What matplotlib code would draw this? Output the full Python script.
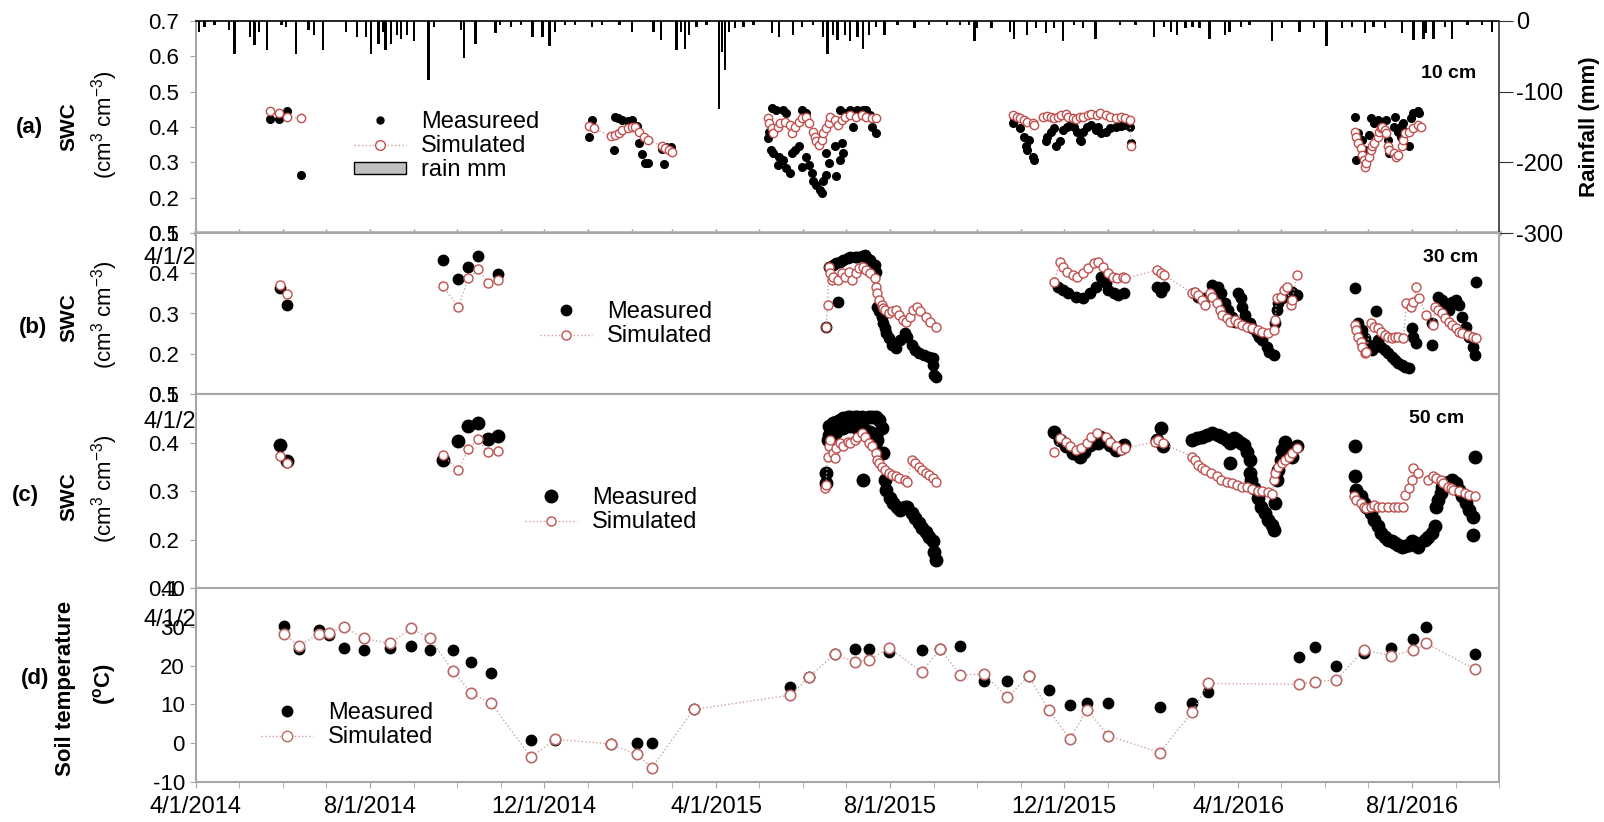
import numpy as np
import pandas as pd
import matplotlib
matplotlib.use('Agg')
import matplotlib.pyplot as plt
import matplotlib.dates as mdates
from matplotlib.lines import Line2D
from matplotlib.patches import Patch
from matplotlib.ticker import FormatStrFormatter, FuncFormatter

plt.rcParams['font.family'] = ['Liberation Sans', 'DejaVu Sans']
plt.rcParams['axes.unicode_minus'] = False
plt.rcParams['mathtext.default'] = 'regular'

START = pd.Timestamp('2014-04-01')
END = pd.Timestamp('2016-10-01')

# all days are counted from 4/1/2014

# daily rainfall (mm)
rain_day = [2, 6, 13, 23, 27, 38, 41, 44, 50, 60, 63, 70, 79, 83, 89, 105, 113, 119, 123, 128,
	131, 133, 137, 141, 144, 148, 153, 163, 167, 186, 188, 196, 210, 213, 221, 228, 236, 243, 248, 252,
	259, 266, 278, 285, 297, 306, 321, 326, 337, 340, 343, 346, 351, 358, 367, 369, 371, 374, 378, 384,
	391, 404, 409, 419, 425, 433, 440, 443, 447, 450, 455, 459, 464, 468, 472, 477, 483, 492, 504, 514,
	527, 536, 542, 546, 548, 558, 571, 574, 583, 589, 596, 602, 608, 616, 622, 631,
	648, 659, 672, 679, 684, 688, 694, 699, 704, 711, 722, 725, 733, 739, 755, 762, 774, 784, 793, 804,
	811, 820, 826, 834, 846, 854, 861, 863, 868, 876, 881, 892, 902, 909]
rain_mm = [15, 8, 6, 13, 46, 22, 34, 15, 41, 6, 8, 46, 13, 20, 41, 15, 22, 22, 46, 32,
	15, 41, 32, 20, 25, 20, 29, 84, 8, 13, 53, 32, 17, 6, 8, 6, 22, 22, 36, 15,
	5, 5, 8, 6, 6, 15, 15, 27, 41, 15, 39, 20, 8, 6, 124, 44, 69, 15, 10, 8,
	5, 17, 22, 20, 8, 6, 22, 46, 20, 27, 20, 29, 22, 39, 20, 8, 20, 6, 10, 5,
	6, 5, 5, 29, 10, 10, 15, 25, 20, 10, 17, 10, 29, 6, 10, 25,
	5, 5, 22, 8, 15, 20, 10, 8, 10, 25, 20, 15, 8, 5, 29, 10, 15, 10, 36, 10,
	8, 17, 8, 10, 17, 27, 25, 17, 25, 8, 25, 6, 5, 15]

# (a) SWC at 10 cm
a_meas_day = [52, 58, 64, 74,
	276, 278, 293, 294, 296, 299, 303, 306, 309, 311, 313, 315, 317, 327, 328, 330, 333,
	401, 402, 403, 404, 405, 407, 408, 409, 412, 412, 414, 414, 417, 418, 420, 423, 425, 425, 428, 428,
	430, 432, 433, 435, 438, 439, 440, 442, 442, 444, 448, 449, 452, 452, 453, 454, 455, 459, 461, 464,
	468, 470, 473, 474, 475, 477,
	573, 574, 578, 581, 582, 583, 584, 587, 588, 596, 597, 600, 602, 603, 606, 608, 611, 613, 616, 618,
	620, 621, 622, 625, 628, 631, 633, 635, 638, 641, 645, 649, 651, 655, 656,
	813, 814, 815, 818, 820, 823, 824, 826, 829, 831, 832, 835, 836, 837, 840, 841, 843, 845, 846, 847,
	848, 851, 852, 854, 857, 858]
a_meas = [0.423, 0.423, 0.445, 0.264,
	0.371, 0.420, 0.335, 0.428, 0.425, 0.420, 0.418, 0.420, 0.403, 0.354, 0.324, 0.297, 0.297, 0.337, 0.294, 0.344, 0.342,
	0.368, 0.387, 0.335, 0.453, 0.326, 0.448, 0.293, 0.316, 0.448, 0.307, 0.439, 0.283, 0.269, 0.326, 0.335, 0.345, 0.448, 0.288, 0.439, 0.316,
	0.293, 0.269, 0.246, 0.236, 0.222, 0.213, 0.246, 0.264, 0.326, 0.297, 0.345, 0.260, 0.307, 0.448, 0.354, 0.326, 0.439, 0.448, 0.401, 0.448,
	0.448, 0.448, 0.434, 0.401, 0.425, 0.382,
	0.411, 0.420, 0.396, 0.373, 0.345, 0.335, 0.363, 0.316, 0.307, 0.359, 0.373, 0.387, 0.396, 0.345, 0.359, 0.392, 0.401, 0.406, 0.401, 0.387,
	0.363, 0.359, 0.387, 0.401, 0.406, 0.392, 0.401, 0.382, 0.387, 0.396, 0.401, 0.403, 0.406, 0.401, 0.354,
	0.429, 0.307, 0.382, 0.363, 0.335, 0.378, 0.425, 0.411, 0.420, 0.392, 0.415, 0.420, 0.363, 0.326, 0.401, 0.429, 0.387, 0.373, 0.406, 0.411,
	0.387, 0.345, 0.425, 0.439, 0.444, 0.439]
a_sim_day = [52, 58, 64, 74,
	276, 279, 291, 294, 297, 299, 303, 306, 308, 311, 314, 317, 327, 329, 332, 334,
	401, 402, 404, 405, 408, 410, 413, 417, 418, 420, 423, 425, 428, 430, 433, 434, 435, 437, 439, 440,
	442, 444, 445, 448, 450, 453, 455, 459, 463, 467, 470, 474, 477,
	573, 576, 578, 581, 583, 587, 588, 594, 597, 600, 602, 605, 607, 610, 612, 615, 617, 620, 622, 626,
	628, 632, 634, 638, 641, 645, 649, 652, 655, 656,
	813, 814, 815, 817, 818, 819, 820, 821, 823, 824, 825, 826, 829, 830, 831, 832, 834, 835, 836, 837,
	840, 842, 843, 846, 847, 848, 851, 854, 857, 859]
a_sim = [0.445, 0.439, 0.429, 0.425,
	0.403, 0.396, 0.375, 0.378, 0.384, 0.392, 0.396, 0.401, 0.399, 0.387, 0.373, 0.363, 0.346, 0.340, 0.335, 0.330,
	0.425, 0.411, 0.396, 0.382, 0.401, 0.411, 0.415, 0.406, 0.382, 0.401, 0.415, 0.425, 0.429, 0.411, 0.387, 0.373, 0.359, 0.349, 0.363, 0.382,
	0.396, 0.411, 0.429, 0.420, 0.406, 0.420, 0.429, 0.434, 0.429, 0.434, 0.429, 0.425, 0.425,
	0.434, 0.429, 0.425, 0.420, 0.415, 0.411, 0.406, 0.429, 0.431, 0.428, 0.425, 0.429, 0.434, 0.437, 0.429, 0.425, 0.422, 0.428, 0.429, 0.434,
	0.437, 0.434, 0.439, 0.434, 0.429, 0.425, 0.428, 0.425, 0.420, 0.345,
	0.387, 0.373, 0.354, 0.340, 0.321, 0.307, 0.288, 0.297, 0.316, 0.335, 0.345, 0.354, 0.373, 0.387, 0.396, 0.401, 0.392, 0.382, 0.345, 0.335,
	0.326, 0.316, 0.321, 0.345, 0.363, 0.382, 0.387, 0.396, 0.406, 0.401]

# (b) SWC at 30 cm
b_meas_day = [59, 64,
	173, 184, 191, 198, 212,
	442, 444, 447, 449, 450, 452, 454, 457, 459, 462, 464, 467, 469, 470, 473, 476, 477, 478, 479, 481,
	482, 483, 484, 486, 488, 491, 494, 497, 499, 502, 504, 507, 511, 514, 517, 517, 518, 519,
	605, 608, 612, 617, 622, 627, 631, 635, 638, 640, 644, 647, 651, 674, 677, 679,
	700, 703, 708, 713, 717, 719, 722, 724, 727, 729, 731, 733, 734, 736, 739, 741, 744, 746, 748, 751,
	753, 756, 757, 758, 759, 762, 765, 769, 772,
	813, 815, 818, 820, 823, 825, 828, 829, 831, 834, 836, 839, 841, 843, 846, 848, 851, 853, 854, 856,
	867, 867, 871, 874, 876, 879, 881, 884, 886, 888, 891, 893, 896, 897, 898]
b_meas = [0.363, 0.321,
	0.433, 0.385, 0.416, 0.443, 0.397,
	0.266, 0.416, 0.420, 0.425, 0.329, 0.429, 0.433, 0.437, 0.440, 0.441, 0.440, 0.443, 0.445, 0.441, 0.433, 0.420, 0.404, 0.317, 0.305, 0.292,
	0.276, 0.263, 0.251, 0.238, 0.222, 0.214, 0.234, 0.251, 0.242, 0.222, 0.209, 0.201, 0.197, 0.193, 0.189, 0.172, 0.147, 0.141,
	0.367, 0.358, 0.350, 0.342, 0.338, 0.350, 0.367, 0.391, 0.375, 0.358, 0.350, 0.346, 0.350, 0.367, 0.354, 0.367,
	0.350, 0.342, 0.338, 0.371, 0.367, 0.350, 0.325, 0.309, 0.292, 0.280, 0.350, 0.338, 0.317, 0.296, 0.276, 0.263, 0.251, 0.242, 0.234, 0.218,
	0.205, 0.197, 0.276, 0.309, 0.325, 0.338, 0.350, 0.354, 0.346,
	0.363, 0.276, 0.259, 0.238, 0.222, 0.209, 0.305, 0.234, 0.218, 0.209, 0.201, 0.193, 0.185, 0.178, 0.172, 0.168, 0.164, 0.263, 0.242, 0.226,
	0.276, 0.222, 0.342, 0.334, 0.321, 0.309, 0.329, 0.334, 0.321, 0.292, 0.267, 0.242, 0.218, 0.197, 0.379]
b_sim_day = [59, 64,
	173, 184, 191, 198, 205, 212,
	442, 443, 444, 445, 446, 447, 450, 453, 455, 458, 460, 463, 465, 468, 470, 473, 476, 477, 478, 479,
	481, 482, 483, 486, 488, 491, 493, 496, 498, 501, 503, 506, 508, 512, 515, 519,
	602, 606, 608, 611, 615, 618, 622, 626, 630, 633, 636, 640, 643, 646, 650, 652, 674, 677, 679,
	699, 701, 703, 706, 708, 711, 713, 716, 718, 720, 723, 725, 729, 731, 734, 737, 741, 745, 748, 752,
	756, 757, 758, 761, 763, 765, 768, 769, 772,
	813, 814, 815, 817, 818, 820, 821, 824, 826, 829, 831, 834, 836, 839, 841, 843, 847, 849, 852, 854,
	856, 858, 863, 868, 869, 871, 874, 876, 879, 881, 884, 886, 888, 892, 896, 898]
b_sim = [0.371, 0.348,
	0.369, 0.317, 0.387, 0.410, 0.377, 0.383,
	0.266, 0.321, 0.416, 0.400, 0.383, 0.391, 0.383, 0.400, 0.391, 0.404, 0.383, 0.400, 0.412, 0.416, 0.408, 0.400, 0.387, 0.367, 0.350, 0.334,
	0.321, 0.313, 0.309, 0.300, 0.305, 0.309, 0.296, 0.284, 0.280, 0.292, 0.309, 0.317, 0.305, 0.292, 0.280, 0.267,
	0.379, 0.429, 0.416, 0.404, 0.396, 0.391, 0.400, 0.412, 0.425, 0.429, 0.416, 0.400, 0.391, 0.387, 0.391, 0.387, 0.408, 0.400, 0.396,
	0.350, 0.354, 0.346, 0.334, 0.321, 0.350, 0.342, 0.325, 0.309, 0.296, 0.288, 0.280, 0.284, 0.276, 0.271, 0.267, 0.263, 0.259, 0.255, 0.251,
	0.259, 0.284, 0.338, 0.342, 0.358, 0.367, 0.321, 0.334, 0.396,
	0.271, 0.259, 0.242, 0.230, 0.218, 0.201, 0.205, 0.276, 0.267, 0.263, 0.255, 0.247, 0.242, 0.238, 0.241, 0.242, 0.238, 0.325, 0.317, 0.329,
	0.367, 0.338, 0.296, 0.271, 0.317, 0.309, 0.300, 0.288, 0.280, 0.271, 0.263, 0.255, 0.251, 0.247, 0.242, 0.238]

# (c) SWC at 50 cm
c_meas_day = [59, 64,
	173, 184, 191, 198, 205, 212,
	442, 442, 443, 444, 444, 445, 447, 449, 449, 452, 454, 454, 457, 459, 459, 462, 464, 464, 467, 468,
	469, 469, 472, 473, 474, 476, 477, 477, 478, 479, 481, 482, 483, 484, 487, 489, 492, 494, 497, 499,
	502, 504, 507, 509, 512, 514, 517, 518, 519,
	602, 606, 610, 615, 620, 623, 627, 631, 633, 634, 638, 641, 645, 649, 651, 674, 677, 678,
	699, 702, 706, 709, 713, 717, 720, 723, 725, 725, 728, 730, 733, 735, 737, 739, 739, 740, 742, 745,
	747, 750, 752, 755, 756, 757, 758, 759, 761, 762, 764, 767, 769, 772,
	813, 813, 814, 817, 819, 821, 824, 826, 829, 831, 834, 836, 839, 841, 843, 846, 848, 851, 853, 856,
	857, 862, 864, 867, 869, 870, 871, 873, 874, 876, 879, 881, 884, 886, 888, 891, 893, 896, 896, 897]
c_meas = [0.395, 0.361,
	0.364, 0.404, 0.433, 0.440, 0.407, 0.414,
	0.337, 0.316, 0.405, 0.433, 0.416, 0.412, 0.440, 0.443, 0.422, 0.446, 0.450, 0.429, 0.452, 0.453, 0.433, 0.452, 0.453, 0.429, 0.453, 0.323,
	0.450, 0.426, 0.452, 0.422, 0.453, 0.395, 0.452, 0.416, 0.405, 0.446, 0.429, 0.378, 0.323, 0.302, 0.285, 0.275, 0.268, 0.261, 0.268, 0.268,
	0.254, 0.244, 0.234, 0.223, 0.216, 0.206, 0.196, 0.175, 0.158,
	0.422, 0.405, 0.392, 0.378, 0.371, 0.381, 0.395, 0.402, 0.398, 0.412, 0.405, 0.395, 0.385, 0.388, 0.395, 0.405, 0.429, 0.392,
	0.405, 0.409, 0.412, 0.416, 0.419, 0.416, 0.412, 0.405, 0.398, 0.357, 0.409, 0.405, 0.398, 0.395, 0.381, 0.364, 0.337, 0.323, 0.306, 0.285,
	0.268, 0.254, 0.240, 0.230, 0.220, 0.275, 0.323, 0.343, 0.364, 0.385, 0.402, 0.378, 0.371, 0.392,
	0.392, 0.330, 0.302, 0.289, 0.275, 0.268, 0.254, 0.240, 0.227, 0.213, 0.206, 0.199, 0.196, 0.192, 0.189, 0.185, 0.187, 0.189, 0.196, 0.192,
	0.185, 0.199, 0.206, 0.213, 0.227, 0.268, 0.282, 0.295, 0.309, 0.316, 0.319, 0.323, 0.316, 0.302, 0.289, 0.275, 0.261, 0.247, 0.210, 0.371]
c_sim_day = [59, 64,
	173, 184, 191, 198, 205, 212,
	441, 442, 443, 444, 445, 447, 448, 449, 452, 454, 457, 459, 462, 464, 467, 469, 472, 474, 477, 478,
	479, 481, 483, 486, 488, 491, 493, 497, 499, 502, 504, 507, 509, 512, 514, 517, 519,
	602, 606, 610, 613, 617, 621, 625, 628, 632, 638, 641, 645, 649, 652, 673, 675, 678,
	699, 701, 703, 706, 708, 712, 716, 719, 723, 727, 730, 734, 737, 741, 745, 748, 752, 755, 756, 757,
	759, 762, 764, 767, 769, 772,
	812, 814, 817, 819, 821, 824, 826, 829, 832, 836, 840, 843, 847, 848, 851, 853, 854, 857, 864, 868,
	870, 873, 875, 878, 880, 882, 886, 890, 893, 897]
c_sim = [0.372, 0.357,
	0.374, 0.343, 0.386, 0.407, 0.380, 0.383,
	0.306, 0.313, 0.371, 0.392, 0.405, 0.378, 0.368, 0.388, 0.398, 0.392, 0.402, 0.398, 0.405, 0.412, 0.419, 0.412, 0.398, 0.392, 0.378, 0.364,
	0.357, 0.350, 0.343, 0.337, 0.333, 0.330, 0.326, 0.323, 0.319, 0.364, 0.357, 0.350, 0.343, 0.337, 0.333, 0.326, 0.319,
	0.381, 0.409, 0.402, 0.392, 0.385, 0.388, 0.398, 0.412, 0.419, 0.412, 0.402, 0.392, 0.385, 0.388, 0.402, 0.405, 0.398,
	0.371, 0.364, 0.354, 0.347, 0.343, 0.337, 0.330, 0.323, 0.319, 0.316, 0.313, 0.309, 0.308, 0.304, 0.301, 0.299, 0.297, 0.294, 0.323, 0.337,
	0.350, 0.357, 0.364, 0.371, 0.378, 0.388,
	0.289, 0.282, 0.275, 0.268, 0.264, 0.268, 0.271, 0.268, 0.268, 0.268, 0.268, 0.268, 0.268, 0.292, 0.306, 0.323, 0.347, 0.337, 0.323, 0.330,
	0.326, 0.323, 0.316, 0.309, 0.306, 0.302, 0.299, 0.295, 0.292, 0.289]

# (d) soil temperature
d_day = [62, 72, 86, 93, 104, 118, 136, 151, 164, 180, 193, 207, 235, 252, 291, 309, 320, 349, 417, 430,
	448, 462, 472, 486, 509, 522, 536, 553, 569, 584, 598, 613, 625, 640, 676, 699, 710, 774, 785, 800,
	819, 838, 854, 863, 897]
d_meas = [30.2, 24.3, 29.3, 27.9, 24.5, 24.0, 24.5, 25.1, 24.0, 24.0, 21.0, 18.0, 0.7, 0.8, -0.3, 0.0, 0.0, 8.7, 14.6, 17.1,
	22.9, 24.2, 24.2, 23.6, 24.0, 24.2, 25.1, 16.1, 16.1, 17.3, 13.7, 9.8, 10.3, 10.3, 9.4, 10.3, 13.1, 22.1, 24.9, 20.0,
	23.2, 24.6, 26.8, 30.0, 23.0]
d_sim = [28.1, 25.1, 28.1, 28.5, 29.9, 27.0, 25.7, 29.6, 27.0, 18.7, 12.9, 10.3, -3.6, 1.0, -0.2, -2.9, -6.3, 8.7, 12.4, 17.1,
	22.9, 21.0, 21.4, 24.6, 18.4, 24.2, 17.6, 17.8, 11.8, 17.3, 8.6, 1.1, 8.6, 1.9, -2.4, 8.1, 15.4, 15.2, 15.9, 16.3,
	24.0, 22.6, 23.9, 25.7, 19.1]

W, H = 1604, 822
GREY = '#a6a6a6'
RED = '#c0504d'
DOT = '#cfa3a3'


def to_dates(days):
	return START + pd.to_timedelta(np.asarray(days), unit='D')


def fx(x):
	return x / W


def fy(y):
	return 1 - y / H


def add_panel(fig, top, bottom):
	ax = fig.add_axes([fx(196), fy(bottom), (1499 - 196) / W, (bottom - top) / H])
	for s in ax.spines.values():
		s.set_color(GREY)
		s.set_linewidth(1.5)
	ax.set_xlim(START, END)
	ax.tick_params(axis='y', direction='out', length=4, color=GREY, labelsize=16, pad=8)
	ax.tick_params(axis='x', length=0, labelbottom=False)
	return ax


def draw_series(ax, m_day, m_val, s_day, s_val, ms_m, ms_s, sim_color=RED, gap=30):
	ax.plot(to_dates(m_day), m_val, ls='none', marker='o', color='black', ms=ms_m, zorder=3)
	s_day = np.asarray(s_day)
	s_val = np.asarray(s_val)
	cut = np.where(np.diff(s_day) > gap)[0] + 1
	for d, v in zip(np.split(s_day, cut), np.split(s_val, cut)):
		ax.plot(to_dates(d), v, ls=':', lw=1, color=DOT, marker='o', mfc='white',
				mec=sim_color, mew=1, ms=ms_s, zorder=4)


def add_legend(fig, ax, x, y, ms_m, ms_s, meas_label='Measured', rain=False, sim_color=RED):
	handles = [Line2D([], [], ls='none', marker='o', color='black', ms=ms_m),
			   Line2D([], [], ls=':', lw=1, color=DOT, marker='o', mfc='white', mec=sim_color, ms=ms_s)]
	labels = [meas_label, 'Simulated']
	if rain:
		handles.append(Patch(facecolor='#c0c0c0', edgecolor='black', linewidth=1))
		labels.append('rain mm')
	ax.legend(handles, labels, loc='center left', bbox_to_anchor=(fx(x), fy(y)),
			  bbox_transform=fig.transFigure, frameon=False, fontsize=17, handlelength=2.2,
			  handletextpad=0.65, borderpad=0, borderaxespad=0, labelspacing=0.1, handleheight=0.45)


def main():
	fig = plt.figure(figsize=(W / 100, H / 100), dpi=100)

	# (a) 10 cm with rainfall on the right axis
	axa = add_panel(fig, 21, 233)
	axa.set_ylim(0.1, 0.7)
	axa.set_yticks(np.arange(0.1, 0.71, 0.1))
	axa.yaxis.set_major_formatter(FormatStrFormatter('%.1f'))
	axa.spines['top'].set_color('black')
	axa.spines['top'].set_linewidth(1.2)
	axa.spines['right'].set_visible(False)
	axa.spines['bottom'].set_linewidth(3.5)
	axa.spines['bottom'].set_color('#b8b8b8')
	axa.xaxis.set_major_locator(mdates.MonthLocator())
	axa.tick_params(axis='x', direction='inout', length=6, width=1, color='#909090')
	draw_series(axa, a_meas_day, a_meas, a_sim_day, a_sim, 5.5, 6)

	ax2 = axa.twinx()
	ax2.bar(to_dates(rain_day), -np.asarray(rain_mm), width=1.6, color='black', linewidth=0)
	ax2.set_ylim(-300, 0)
	ax2.set_yticks([0, -100, -200, -300])
	for side in ['left', 'top', 'bottom']:
		ax2.spines[side].set_visible(False)
	ax2.spines['right'].set_color('#333333')
	ax2.spines['right'].set_linewidth(1.2)
	ax2.tick_params(axis='y', direction='out', length=10, color='#333333', labelsize=17, pad=2)
	add_legend(fig, ax2, 354, 146, 5, 7, meas_label='Measureed', rain=True)

	# (b) 30 cm
	axb = add_panel(fig, 233, 394)
	axb.set_ylim(0.1, 0.5)
	axb.set_yticks(np.arange(0.1, 0.51, 0.1))
	axb.yaxis.set_major_formatter(FormatStrFormatter('%.1f'))
	draw_series(axb, b_meas_day, b_meas, b_sim_day, b_sim, 7.5, 6.5)
	add_legend(fig, axb, 540, 324, 7.5, 6.5)

	# (c) 50 cm
	axc = add_panel(fig, 394, 588)
	axc.set_ylim(0.1, 0.5)
	axc.set_yticks(np.arange(0.1, 0.51, 0.1))
	axc.yaxis.set_major_formatter(FormatStrFormatter('%.1f'))
	draw_series(axc, c_meas_day, c_meas, c_sim_day, c_sim, 9, 6.5)
	add_legend(fig, axc, 525, 510, 9, 6.5)

	# (d) soil temperature
	axd = add_panel(fig, 588, 782)
	axd.set_ylim(-10, 40)
	axd.set_yticks(range(-10, 41, 10))
	axd.tick_params(axis='y', pad=4)
	ROSE = '#b86a68'
	axd.plot(to_dates(d_day), d_meas, ls='none', marker='o', color='black', ms=7.5, zorder=3)
	axd.plot(to_dates(d_day), d_sim, ls=':', lw=1, color=DOT, marker='o', mfc='white',
			 mec=ROSE, mew=1.2, ms=7.5, zorder=4)
	add_legend(fig, axd, 261, 725, 7.5, 7.5, sim_color=ROSE)
	axd.xaxis.set_major_locator(mdates.MonthLocator(bymonth=[4, 8, 12]))
	axd.xaxis.set_minor_locator(mdates.MonthLocator())
	axd.xaxis.set_major_formatter(FuncFormatter(
		lambda v, p: '{0.month}/{0.day}/{0.year}'.format(mdates.num2date(v))))
	axd.tick_params(axis='x', which='both', direction='out', length=4, color=GREY,
					labelbottom=True, labelsize=17, pad=6)

	# left labels
	fig.text(fx(29), fy(127), '(a)', fontsize=16, fontweight='bold', ha='center', va='center')
	fig.text(fx(33), fy(327), '(b)', fontsize=16, fontweight='bold', ha='center', va='center')
	fig.text(fx(25), fy(495), '(c)', fontsize=16, fontweight='bold', ha='center', va='center')
	fig.text(fx(35), fy(678), '(d)', fontsize=16, fontweight='bold', ha='center', va='center')
	units = '(cm$^3$ cm$^{-3}$)'
	for yc, yu in [(127, 125), (318, 315), (497, 489)]:
		fig.text(fx(69), fy(yc), 'SWC', fontsize=15, fontweight='bold', rotation=90, ha='center', va='center')
		fig.text(fx(105), fy(yu), units, fontsize=16, rotation=90, ha='center', va='center')
	fig.text(fx(66), fy(688), 'Soil temperature', fontsize=16, fontweight='bold', rotation=90,
			 ha='center', va='center')
	fig.text(fx(104), fy(684), '($^o$C)', fontsize=16, fontweight='bold', rotation=90,
			 ha='center', va='center')
	fig.text(fx(1589), fy(127), 'Rainfall (mm)', fontsize=16, fontweight='bold', rotation=90,
			 ha='center', va='center')

	# depth labels
	fig.text(fx(1449), fy(73), '10 cm', fontsize=14, fontweight='bold', ha='center', va='center')
	fig.text(fx(1451), fy(257), '30 cm', fontsize=14, fontweight='bold', ha='center', va='center')
	fig.text(fx(1437), fy(418), '50 cm', fontsize=14, fontweight='bold', ha='center', va='center')

	# clipped date labels left over from the stacked panels
	for y in [258, 422, 620]:
		fig.text(fx(196), fy(y), '4/1/2', fontsize=17, ha='right', va='center')

	fig.savefig('out.png', dpi=100)


if __name__ == '__main__':
	main()
